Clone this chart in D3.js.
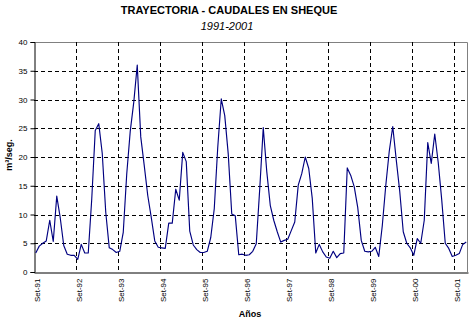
<!DOCTYPE html>
<html>
<head>
<meta charset="utf-8">
<script src="https://cdn.jsdelivr.net/npm/d3@7"></script>
<style>
  html, body { margin: 0; padding: 0; background: #fff; }
  svg { display: block; font-family: "Liberation Sans", Arial, sans-serif; }
</style>
</head>
<body>
<svg id="chart" width="476" height="321"></svg>
<script>
// Monthly flows (m3/s), Sep-1991 .. Dec-2001
const caudales = [
  3.3, 4.5, 5.0, 5.4, 9.0, 5.3, 13.2, 9.4, 4.6, 3.1, 2.9, 2.9,
  2.2, 4.8, 3.3, 3.3, 12.7, 24.6, 25.8, 20.6, 10.4, 4.2, 3.9, 3.4,
  3.6, 6.9, 17.1, 24.5, 29.5, 36.0, 23.5, 18.5, 13.3, 9.5, 5.4, 4.3,
  4.2, 4.1, 8.5, 8.5, 14.4, 12.5, 20.8, 19.2, 7.1, 4.7, 3.9, 3.4,
  3.4, 3.6, 6.0, 11.0, 21.7, 30.1, 27.2, 20.5, 10.1, 9.8, 3.0, 3.1,
  2.9, 3.0, 3.6, 4.9, 14.5, 25.1, 17.5, 11.6, 9.0, 7.0, 5.2, 5.5,
  5.7, 7.2, 8.7, 15.1, 17.1, 20.0, 18.0, 12.8, 3.3, 4.8, 3.5, 2.6,
  2.4, 3.6, 2.5, 3.2, 3.3, 18.1, 16.8, 14.8, 11.2, 5.5, 3.6, 3.5,
  3.6, 4.3, 2.7, 8.0, 15.0, 21.0, 25.3, 19.5, 14.0, 7.0, 5.0, 4.2,
  2.9, 5.8, 5.0, 9.0, 22.5, 18.9, 24.0, 19.0, 12.5, 5.0, 4.1, 2.7,
  2.9, 3.2, 4.8, 5.2
];
const yearLabels = ["Set-91","Set-92","Set-93","Set-94","Set-95","Set-96",
                    "Set-97","Set-98","Set-99","Set-00","Set-01"];
const yTicks = [0, 5, 10, 15, 20, 25, 30, 35, 40];
const titleText = "TRAYECTORIA - CAUDALES EN SHEQUE";
const subtitleText = "1991-2001";
const yLabelText = "m³/seg.";
const xLabelText = "Años";

const svg = d3.select("#chart");
const L = 34, R = 468, T = 42, B = 272;

// months since Sep-1991 (points plotted mid-month)
const x = d3.scaleLinear().domain([0, 124]).range([L, R]);
const y = d3.scaleLinear().domain([0, 40]).range([B, T]);

// plot border (gray top/right)
svg.append("path")
  .attr("d", `M${L},${T + 0.5}H${R - 0.5}V${B}`)
  .attr("fill", "none").attr("stroke", "#808080").attr("stroke-width", 1);

// horizontal gridlines
svg.append("g").selectAll("line")
  .data(yTicks.filter(v => v > 0 && v < 40))
  .join("line")
  .attr("x1", L).attr("x2", R)
  .attr("y1", d => Math.round(y(d)) + 0.5).attr("y2", d => Math.round(y(d)) + 0.5)
  .attr("stroke", "#000").attr("stroke-dasharray", "4,3").attr("stroke-width", 1);

// vertical gridlines at each September
svg.append("g").selectAll("line")
  .data(yearLabels.map((d, i) => i * 12).filter(m => m > 0))
  .join("line")
  .attr("x1", d => Math.round(x(d)) + 0.5).attr("x2", d => Math.round(x(d)) + 0.5)
  .attr("y1", T).attr("y2", B)
  .attr("stroke", "#000").attr("stroke-dasharray", "4,3").attr("stroke-width", 1);

// y axis
const yAxis = d3.axisLeft(y).tickValues(yTicks).tickSize(4).tickPadding(3);
const gy = svg.append("g").attr("transform", `translate(${L + 0.5},0)`).call(yAxis);
gy.select(".domain").attr("stroke", "#000");
gy.selectAll(".tick line").attr("stroke", "#000");
gy.selectAll("text").attr("font-size", 8).attr("fill", "#000")
  .attr("font-family", "Liberation Sans, Arial, sans-serif");

// x axis line
const xAxis = d3.axisBottom(x).tickValues(yearLabels.map((d, i) => i * 12))
  .tickSize(0).tickFormat((d, i) => yearLabels[i]);
const gx = svg.append("g").attr("transform", `translate(0,${B + 0.5})`).call(xAxis);
gx.select(".domain").attr("stroke", "#000");
gx.selectAll("text")
  .attr("font-size", 8).attr("fill", "#000")
  .attr("font-family", "Liberation Sans, Arial, sans-serif")
  .attr("text-anchor", "end")
  .attr("dy", null)
  .attr("y", 0)
  .attr("transform", "translate(2.5,6) rotate(-90)")
  .attr("dominant-baseline", "central");

// flow line
const line = d3.line().x((d, i) => x(i + 0.5)).y(d => y(d));
svg.append("path")
  .datum(caudales)
  .attr("d", line)
  .attr("fill", "none")
  .attr("stroke", "#000080")
  .attr("stroke-width", 1.15)
  .attr("stroke-linejoin", "round");

// titles
svg.append("text").attr("x", 229).attr("y", 13.5).attr("text-anchor", "middle")
  .attr("font-size", 11).attr("font-weight", "bold").text(titleText);
svg.append("text").attr("x", 227).attr("y", 30).attr("text-anchor", "middle")
  .attr("font-size", 11).attr("font-style", "italic").text(subtitleText);

// axis titles
svg.append("text").attr("transform", "translate(9,155) rotate(-90)")
  .attr("text-anchor", "middle").attr("dominant-baseline", "central")
  .attr("font-size", 9).attr("font-weight", "bold").text(yLabelText);
svg.append("text").attr("x", 250).attr("y", 317).attr("text-anchor", "middle")
  .attr("font-size", 9).attr("font-weight", "bold").text(xLabelText);
</script>
</body>
</html>
